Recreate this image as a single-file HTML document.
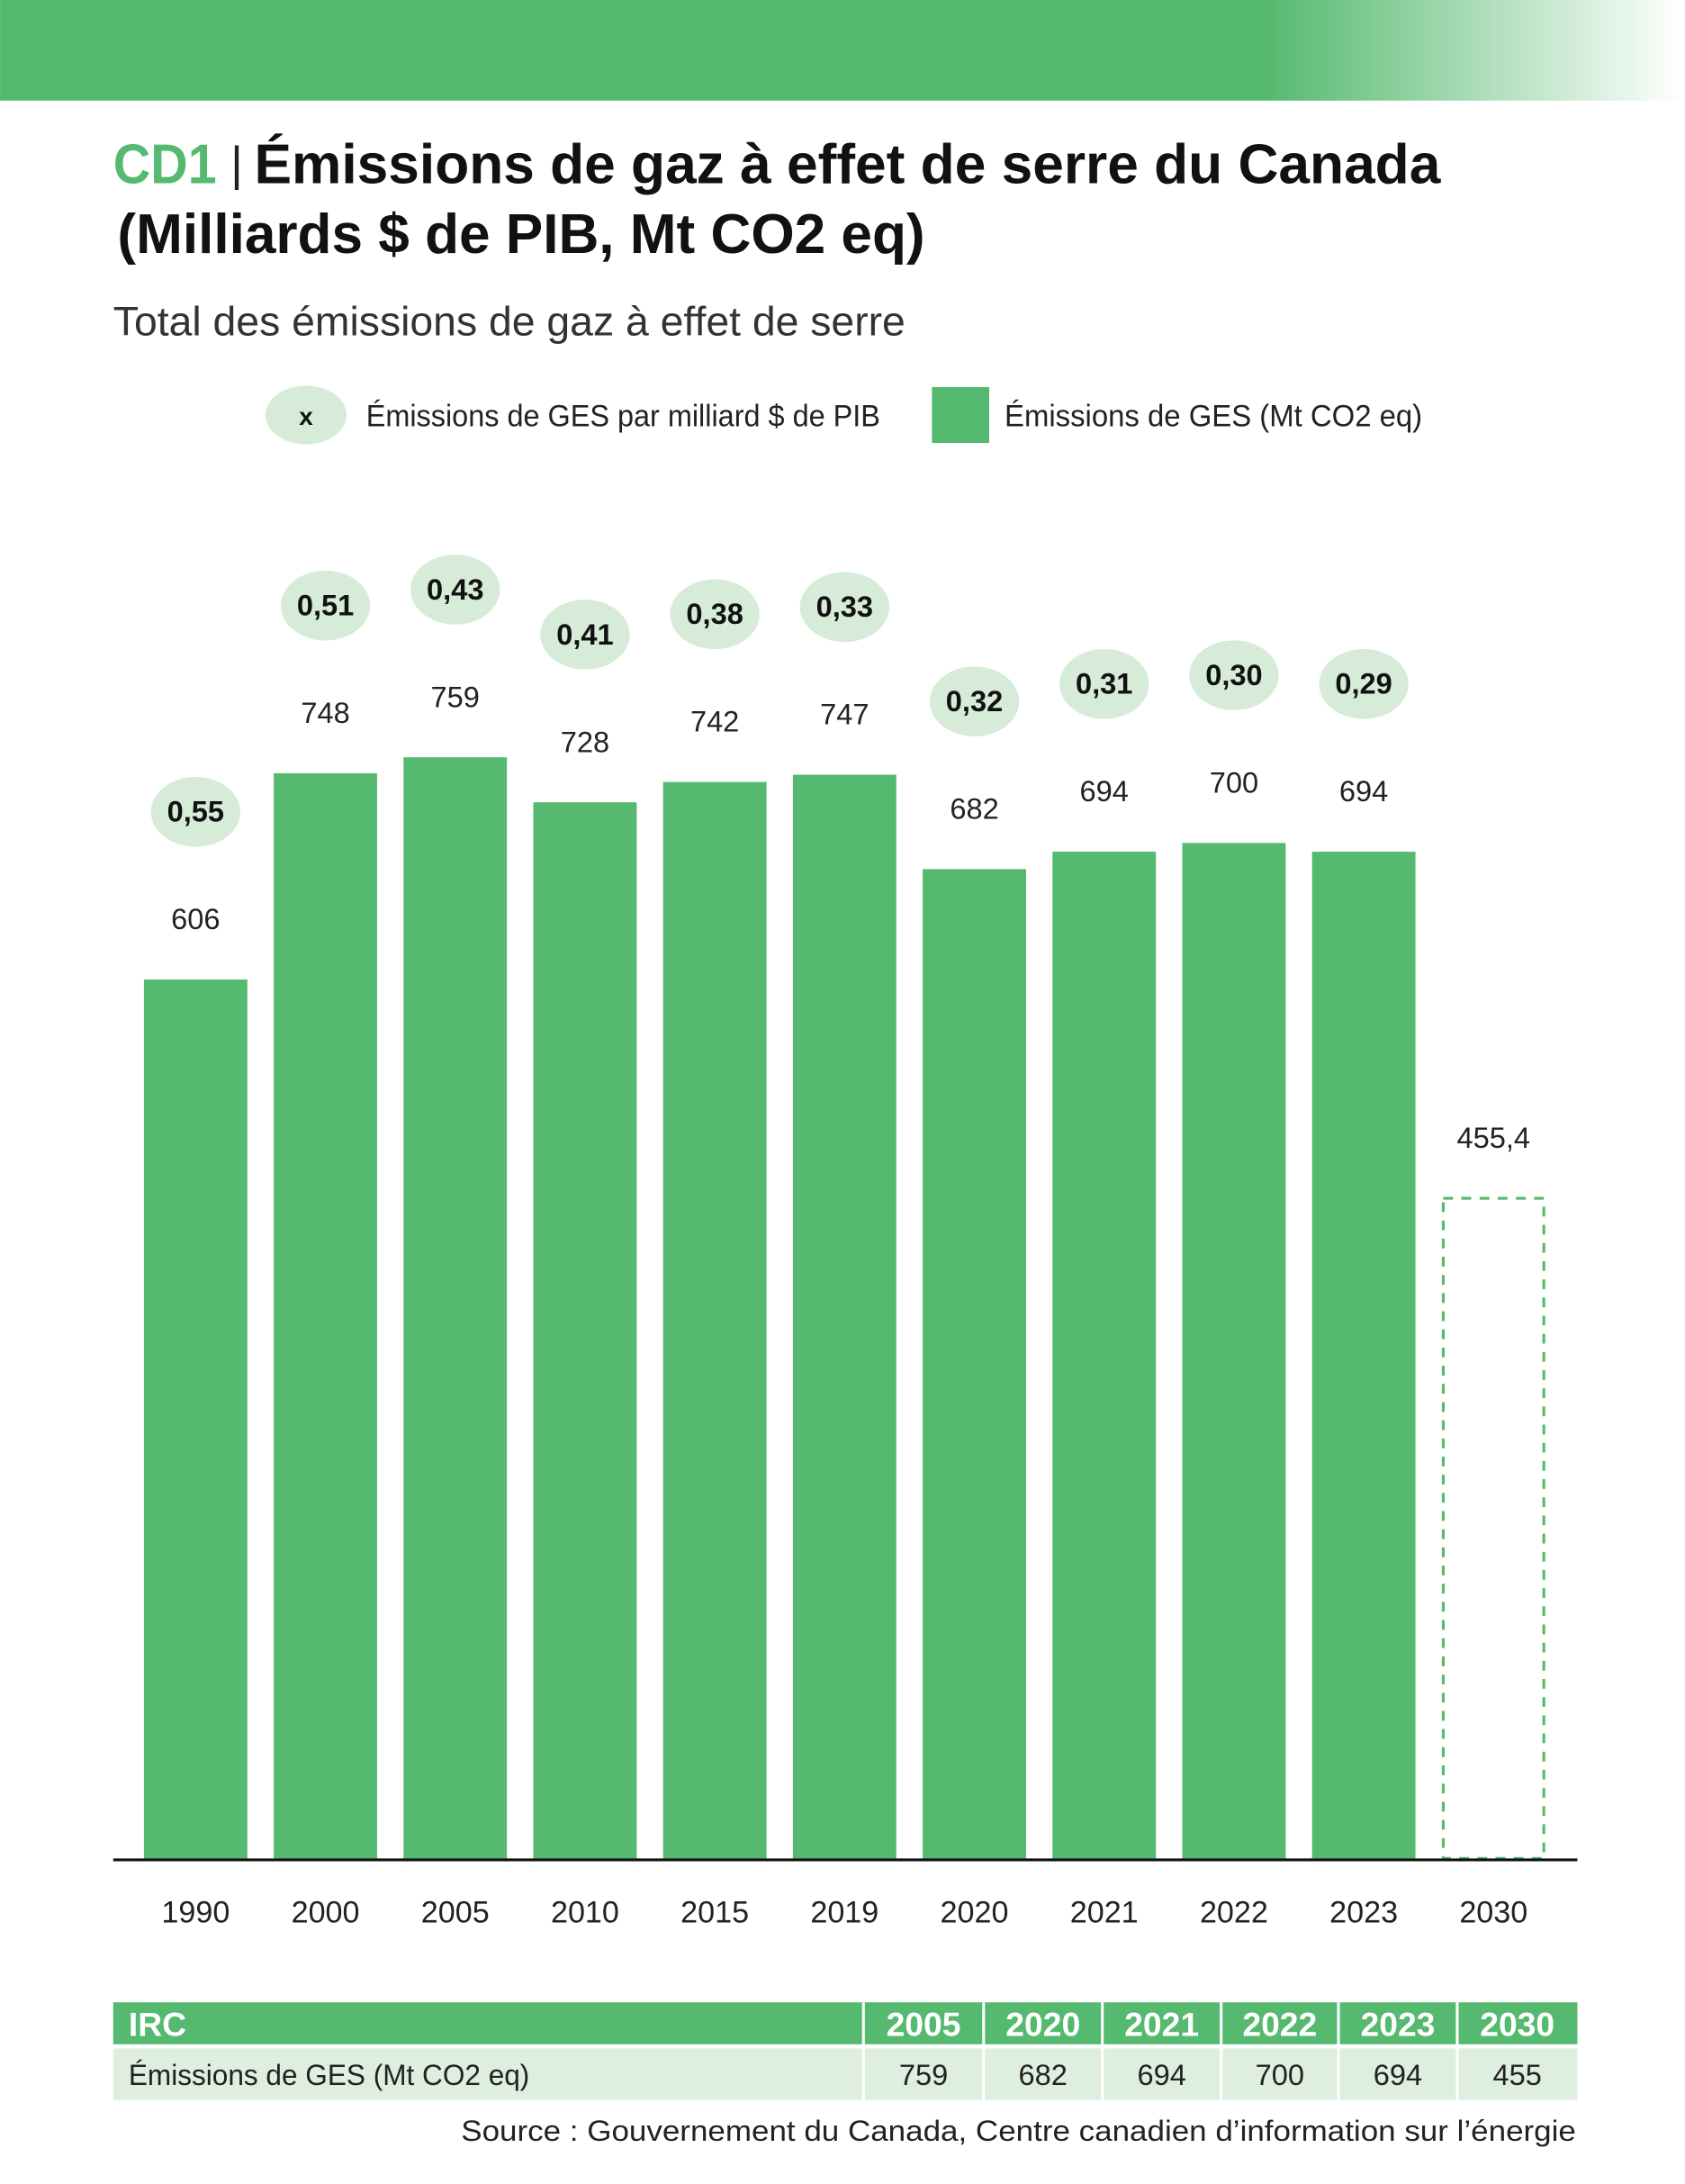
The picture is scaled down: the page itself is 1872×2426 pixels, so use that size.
<!DOCTYPE html>
<html><head><meta charset="utf-8"><style>
html,body{margin:0;padding:0;background:#fff;}
svg{display:block;font-family:"Liberation Sans",sans-serif;}
</style></head><body>
<svg id="chart" width="1872" height="2426" viewBox="0 0 1206 1563" xmlns="http://www.w3.org/2000/svg">
<defs>
<linearGradient id="bg" x1="0" x2="1" y1="0" y2="0">
<stop offset="0" stop-color="#55b96f"/><stop offset="0.75" stop-color="#55b96f"/><stop offset="1" stop-color="#ffffff"/>
</linearGradient>
</defs>
<rect x="0" y="0" width="1206" height="72" fill="url(#bg)"/>
<text x="81" y="131" font-size="40" font-weight="bold" fill="#55b96f" textLength="74" lengthAdjust="spacingAndGlyphs">CD1</text>
<text x="165" y="129" font-size="34" fill="#222">|</text>
<text x="182" y="131" font-size="40" font-weight="bold" fill="#111" textLength="849" lengthAdjust="spacingAndGlyphs">Émissions de gaz à effet de serre du Canada</text>
<text x="84" y="181" font-size="40" font-weight="bold" fill="#111" textLength="578" lengthAdjust="spacingAndGlyphs">(Milliards $ de PIB, Mt CO2 eq)</text>
<text x="81" y="240" font-size="29" fill="#333" textLength="567" lengthAdjust="spacingAndGlyphs">Total des émissions de gaz à effet de serre</text>
<g>
<ellipse cx="219" cy="297" rx="29" ry="21" fill="#d6ebd8"/>
<text x="219" y="304" font-size="18" font-weight="bold" text-anchor="middle" fill="#111">x</text>
<text x="262" y="305" font-size="22" fill="#222" textLength="368" lengthAdjust="spacingAndGlyphs">Émissions de GES par milliard $ de PIB</text>
<rect x="667" y="277" width="41" height="40" fill="#55b96f"/>
<text x="719" y="305" font-size="22" fill="#222" textLength="299" lengthAdjust="spacingAndGlyphs">Émissions de GES (Mt CO2 eq)</text>
</g>
<g id="bars"></g>
<line x1="81" x2="1129" y1="1331" y2="1331" stroke="#111" stroke-width="2"/>
<g id="table">
<rect x="81" y="1433" width="1048" height="30" fill="#55b96f"/>
<rect x="81" y="1466" width="1048" height="37" fill="#deeedf"/>
<text x="92" y="1457" font-size="24" font-weight="bold" fill="#fff">IRC</text>
<text x="92" y="1492" font-size="21" fill="#222" textLength="287" lengthAdjust="spacingAndGlyphs">Émissions de GES (Mt CO2 eq)</text>
</g>
<text x="1128" y="1532" font-size="21" fill="#222" text-anchor="end" textLength="798" lengthAdjust="spacingAndGlyphs">Source : Gouvernement du Canada, Centre canadien d’information sur l’énergie</text>
</svg>
<script>
const years = ["1990","2000","2005","2010","2015","2019","2020","2021","2022","2023","2030"];
const emissions = [606,748,759,728,742,747,682,694,700,694,455.4];
const emissionLabels = ["606","748","759","728","742","747","682","694","700","694","455,4"];
const intensityLabels = ["0,55","0,51","0,43","0,41","0,38","0,33","0,32","0,31","0,30","0,29",""];
const tableYears = ["2005","2020","2021","2022","2023","2030"];
const tableValues = ["759","682","694","700","694","455"];

const NS = "http://www.w3.org/2000/svg";
const baseY = 1331, pxPerUnit = 1.0396, firstX = 140, step = 92.9, barW = 74;
function xPos(i){ return firstX + i*step; }
function yPos(v){ return baseY - v*pxPerUnit; }
function mk(tag, attrs, parent){
  const e = document.createElementNS(NS, tag);
  for (const k in attrs) e.setAttribute(k, attrs[k]);
  parent.appendChild(e); return e;
}
const g = document.getElementById("bars");
years.forEach((yr, i) => {
  const v = emissions[i], cx = xPos(i), top = yPos(v);
  const projected = i === years.length - 1;
  const bar = mk("rect", projected ?
    {x: cx-barW/2+1, y: top, width: barW-2, height: baseY-top-1, fill:"none", stroke:"#55b96f", "stroke-width":2, "stroke-dasharray":"7,6"} :
    {x: cx-barW/2, y: top, width: barW, height: baseY-top, fill:"#55b96f"}, g);
  
  
  const vl = mk("text", {x: cx, y: top-36, "font-size": 21, "text-anchor":"middle", fill:"#222"}, g);
  vl.textContent = emissionLabels[i];
  
  
  if (intensityLabels[i]) {
    const el = mk("ellipse", {cx: cx, cy: top-120, rx: 32, ry: 25, fill:"#d6ebd8"}, g);
    
    
    const it = mk("text", {x: cx, y: top-113, "font-size": 21, "font-weight":"bold", "text-anchor":"middle", fill:"#111"}, g);
    it.textContent = intensityLabels[i];
    
    
  }
  const xl = mk("text", {x: cx, y: 1376, "font-size": 22, "text-anchor":"middle", fill:"#222"}, g);
  xl.textContent = yr;
  
  
});
const t = document.getElementById("table");
const colEdges = [618,704,789,874,958,1043,1129];
tableYears.forEach((yr, i) => {
  const cx = (colEdges[i]+colEdges[i+1])/2;
  const sep = mk("line", {x1: colEdges[i], x2: colEdges[i], y1: 1433, y2: 1503, stroke:"#fff", "stroke-width":2}, t);
  
  
  const h = mk("text", {x: cx, y: 1457, "font-size": 24, "font-weight":"bold", "text-anchor":"middle", fill:"#fff"}, t);
  h.textContent = yr;
  
  
  const c = mk("text", {x: cx, y: 1492, "font-size": 21, "text-anchor":"middle", fill:"#222"}, t);
  c.textContent = tableValues[i];
  
  
});
</script>
</body></html>
